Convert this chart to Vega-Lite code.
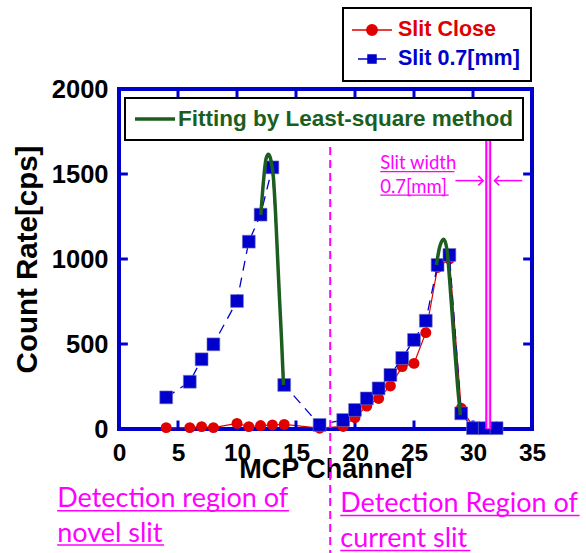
{
  "$schema": "https://vega.github.io/schema/vega-lite/v6.json",
  "width": 413,
  "height": 340,
  "autosize": {"type": "none"},
  "padding": {"left": 119, "top": 89, "right": 54, "bottom": 124},
  "background": "white",
  "config": {
    "view": {"fill": "#fdf69c", "stroke": "#0000cc", "strokeWidth": 4},
    "axis": {"grid": false, "domain": false, "ticks": false}
  },
  "datasets": {
    "slit": [
      {"series": "Slit Close", "ch": 4, "rate": 8},
      {"series": "Slit Close", "ch": 6, "rate": 8},
      {"series": "Slit Close", "ch": 7, "rate": 14},
      {"series": "Slit Close", "ch": 8, "rate": 8},
      {"series": "Slit Close", "ch": 10, "rate": 33},
      {"series": "Slit Close", "ch": 11, "rate": 14},
      {"series": "Slit Close", "ch": 12, "rate": 20},
      {"series": "Slit Close", "ch": 13, "rate": 24},
      {"series": "Slit Close", "ch": 14, "rate": 27},
      {"series": "Slit Close", "ch": 17, "rate": 5},
      {"series": "Slit Close", "ch": 19, "rate": 15},
      {"series": "Slit Close", "ch": 20, "rate": 67},
      {"series": "Slit Close", "ch": 21, "rate": 135},
      {"series": "Slit Close", "ch": 22, "rate": 180},
      {"series": "Slit Close", "ch": 23, "rate": 253},
      {"series": "Slit Close", "ch": 24, "rate": 367},
      {"series": "Slit Close", "ch": 25, "rate": 386},
      {"series": "Slit Close", "ch": 26, "rate": 567},
      {"series": "Slit Close", "ch": 27, "rate": 950},
      {"series": "Slit Close", "ch": 28, "rate": 1000},
      {"series": "Slit Close", "ch": 29, "rate": 122},
      {"series": "Slit Close", "ch": 30, "rate": 15},
      {"series": "Slit Close", "ch": 31, "rate": 10},
      {"series": "Slit Close", "ch": 32, "rate": 12},
      {"series": "Slit 0.7[mm]", "ch": 4, "rate": 186},
      {"series": "Slit 0.7[mm]", "ch": 6, "rate": 278},
      {"series": "Slit 0.7[mm]", "ch": 7, "rate": 410},
      {"series": "Slit 0.7[mm]", "ch": 8, "rate": 498},
      {"series": "Slit 0.7[mm]", "ch": 10, "rate": 753},
      {"series": "Slit 0.7[mm]", "ch": 11, "rate": 1102},
      {"series": "Slit 0.7[mm]", "ch": 12, "rate": 1261},
      {"series": "Slit 0.7[mm]", "ch": 13, "rate": 1539},
      {"series": "Slit 0.7[mm]", "ch": 14, "rate": 259},
      {"series": "Slit 0.7[mm]", "ch": 17, "rate": 24},
      {"series": "Slit 0.7[mm]", "ch": 19, "rate": 53},
      {"series": "Slit 0.7[mm]", "ch": 20, "rate": 112},
      {"series": "Slit 0.7[mm]", "ch": 21, "rate": 180},
      {"series": "Slit 0.7[mm]", "ch": 22, "rate": 239},
      {"series": "Slit 0.7[mm]", "ch": 23, "rate": 318},
      {"series": "Slit 0.7[mm]", "ch": 24, "rate": 418},
      {"series": "Slit 0.7[mm]", "ch": 25, "rate": 524},
      {"series": "Slit 0.7[mm]", "ch": 26, "rate": 637},
      {"series": "Slit 0.7[mm]", "ch": 27, "rate": 965},
      {"series": "Slit 0.7[mm]", "ch": 28, "rate": 1024},
      {"series": "Slit 0.7[mm]", "ch": 29, "rate": 92},
      {"series": "Slit 0.7[mm]", "ch": 30, "rate": 5},
      {"series": "Slit 0.7[mm]", "ch": 31, "rate": 5},
      {"series": "Slit 0.7[mm]", "ch": 32, "rate": 5}
    ],
    "fit": [
      {"name": "Fitting by Least-square method", "peak": "left", "ch": 12.02, "rate": 1259},
      {"name": "Fitting by Least-square method", "peak": "left", "ch": 12.24, "rate": 1455},
      {"name": "Fitting by Least-square method", "peak": "left", "ch": 12.47, "rate": 1592},
      {"name": "Fitting by Least-square method", "peak": "left", "ch": 12.67, "rate": 1616},
      {"name": "Fitting by Least-square method", "peak": "left", "ch": 12.87, "rate": 1582},
      {"name": "Fitting by Least-square method", "peak": "left", "ch": 13.09, "rate": 1475},
      {"name": "Fitting by Least-square method", "peak": "left", "ch": 13.26, "rate": 1278},
      {"name": "Fitting by Least-square method", "peak": "left", "ch": 13.43, "rate": 1024},
      {"name": "Fitting by Least-square method", "peak": "left", "ch": 13.6, "rate": 769},
      {"name": "Fitting by Least-square method", "peak": "left", "ch": 13.77, "rate": 534},
      {"name": "Fitting by Least-square method", "peak": "left", "ch": 13.94, "rate": 259},
      {"name": "Fitting by Least-square method", "peak": "right", "ch": 26.9, "rate": 965},
      {"name": "Fitting by Least-square method", "peak": "right", "ch": 27.18, "rate": 1072},
      {"name": "Fitting by Least-square method", "peak": "right", "ch": 27.52, "rate": 1116},
      {"name": "Fitting by Least-square method", "peak": "right", "ch": 27.8, "rate": 1053},
      {"name": "Fitting by Least-square method", "peak": "right", "ch": 28.02, "rate": 876},
      {"name": "Fitting by Least-square method", "peak": "right", "ch": 28.25, "rate": 661},
      {"name": "Fitting by Least-square method", "peak": "right", "ch": 28.48, "rate": 445},
      {"name": "Fitting by Least-square method", "peak": "right", "ch": 28.7, "rate": 249},
      {"name": "Fitting by Least-square method", "peak": "right", "ch": 28.93, "rate": 82}
    ],
    "xticks": [{"v": 5}, {"v": 10}, {"v": 15}, {"v": 20}, {"v": 25}, {"v": 30}],
    "yticks": [{"v": 500}, {"v": 1000}, {"v": 1500}],
    "one": [{}]
  },
  "layer": [
    {
      "data": {"name": "slit"},
      "transform": [{"filter": "datum.series === 'Slit Close'"}],
      "mark": {"type": "line", "color": "#e00000", "strokeWidth": 1.2},
      "encoding": {
        "x": {"field": "ch", "type": "quantitative",
          "scale": {"domain": [0, 35], "nice": false, "zero": false},
          "axis": {"orient": "bottom", "values": [0, 5, 10, 15, 20, 25, 30, 35], "format": "d",
            "labelFont": "Liberation Sans", "labelFontWeight": "bold", "labelFontSize": 24.5, "labelColor": "black", "labelPadding": 12, "labelFlush": false, "labelOverlap": false,
            "title": "MCP Channel", "titleFont": "Liberation Sans", "titleFontSize": 27, "titleFontWeight": "bold", "titleColor": "black",
            "titleX": 206.5, "titleY": 48, "titleBaseline": "alphabetic", "titleAlign": "center", "titleAngle": 0}},
        "y": {"field": "rate", "type": "quantitative",
          "scale": {"domain": [0, 2000], "nice": false},
          "axis": {"orient": "left", "values": [0, 500, 1000, 1500, 2000], "format": "d",
            "labelFont": "Liberation Sans", "labelFontWeight": "bold", "labelFontSize": 25.5, "labelColor": "black", "labelPadding": 11, "labelFlush": false, "labelOverlap": false,
            "title": "Count Rate[cps]", "titleFont": "Liberation Sans", "titleFontSize": 29.5, "titleFontWeight": "bold", "titleColor": "black",
            "titleX": -83, "titleY": 170, "titleAngle": 270, "titleBaseline": "alphabetic", "titleAlign": "center"}}
      }
    },
    {
      "data": {"name": "xticks"},
      "mark": {"type": "rule", "color": "#0000cc", "strokeWidth": 3},
      "encoding": {
        "x": {"field": "v", "type": "quantitative"},
        "y": {"datum": 0, "type": "quantitative"},
        "y2": {"datum": 50}
      }
    },
    {
      "data": {"name": "xticks"},
      "mark": {"type": "rule", "color": "#0000cc", "strokeWidth": 3},
      "encoding": {
        "x": {"field": "v", "type": "quantitative"},
        "y": {"datum": 2000, "type": "quantitative"},
        "y2": {"datum": 1950}
      }
    },
    {
      "data": {"name": "yticks"},
      "mark": {"type": "rule", "color": "#0000cc", "strokeWidth": 3},
      "encoding": {
        "y": {"field": "v", "type": "quantitative"},
        "x": {"datum": 0, "type": "quantitative"},
        "x2": {"datum": 0.75}
      }
    },
    {
      "data": {"name": "yticks"},
      "mark": {"type": "rule", "color": "#0000cc", "strokeWidth": 3},
      "encoding": {
        "y": {"field": "v", "type": "quantitative"},
        "x": {"datum": 35, "type": "quantitative"},
        "x2": {"datum": 34.25}
      }
    },
    {
      "data": {"name": "slit"},
      "transform": [{"filter": "datum.series === 'Slit Close'"}],
      "mark": {"type": "point", "shape": "circle", "filled": true, "color": "#e00000", "size": 120, "opacity": 1},
      "encoding": {
        "x": {"field": "ch", "type": "quantitative"},
        "y": {"field": "rate", "type": "quantitative"}
      }
    },
    {
      "data": {"name": "slit"},
      "transform": [{"filter": "datum.series === 'Slit 0.7[mm]'"}],
      "mark": {"type": "line", "color": "#0000cc", "strokeWidth": 1.3, "strokeDash": [10, 7]},
      "encoding": {
        "x": {"field": "ch", "type": "quantitative"},
        "y": {"field": "rate", "type": "quantitative"}
      }
    },
    {
      "data": {"name": "slit"},
      "transform": [{"filter": "datum.series === 'Slit 0.7[mm]'"}],
      "mark": {"type": "point", "shape": "square", "filled": true, "color": "#0000cc", "size": 165, "opacity": 1, "stroke": "#7777bb", "strokeWidth": 0.6},
      "encoding": {
        "x": {"field": "ch", "type": "quantitative"},
        "y": {"field": "rate", "type": "quantitative"}
      }
    },
    {
      "data": {"name": "fit"},
      "mark": {"type": "line", "strokeWidth": 3.5, "interpolate": "monotone"},
      "encoding": {
        "x": {"field": "ch", "type": "quantitative"},
        "y": {"field": "rate", "type": "quantitative"},
        "detail": {"field": "peak", "type": "nominal"},
        "color": {"field": "name", "type": "nominal",
          "scale": {"domain": ["Fitting by Least-square method"], "range": ["#1b5e20"]},
          "legend": {"orient": "none", "legendX": 6, "legendY": 9, "title": null, "padding": 9,
            "strokeColor": "black", "fillColor": "white",
            "symbolType": "M-2,0H2", "symbolSize": 400, "symbolStrokeWidth": 3.5, "symbolOffset": 9,
            "labelOffset": 11, "labelFont": "Liberation Sans", "labelFontWeight": "bold", "labelFontSize": 22.5, "labelColor": "#1b5e20", "labelLimit": 500,
            "encode": {"legend": {"update": {"strokeWidth": {"value": 2}}}}}}
      }
    },
    {
      "data": {"values": [{"series": "Slit Close"}, {"series": "Slit 0.7[mm]"}]},
      "transform": [{"filter": "false"}],
      "mark": {"type": "point", "filled": true},
      "encoding": {
        "fill": {"field": "series", "type": "nominal",
          "scale": {"domain": ["Slit Close", "Slit 0.7[mm]"], "range": ["#e00000", "#0000cc"]},
          "legend": {"orient": "none", "legendX": 224, "legendY": -81, "title": null, "padding": 11,
            "strokeColor": "black", "fillColor": "white",
            "symbolSize": 400, "symbolStrokeWidth": 1.5, "symbolOffset": 7, "symbolOpacity": 1,
            "labelOffset": 15, "rowPadding": 7, "labelFont": "Liberation Sans", "labelFontWeight": "bold", "labelFontSize": 21.5, "labelLimit": 300,
            "encode": {"legend": {"update": {"strokeWidth": {"value": 2}}},
              "labels": {"update": {"fill": {"signal": "datum.value === 'Slit Close' ? '#e00000' : '#0000cc'"}}}}}},
        "stroke": {"field": "series", "type": "nominal",
          "scale": {"domain": ["Slit Close", "Slit 0.7[mm]"], "range": ["#e00000", "#0000cc"]}},
        "shape": {"field": "series", "type": "nominal",
          "scale": {"domain": ["Slit Close", "Slit 0.7[mm]"],
            "range": ["M-2,0H2M0.52,0A0.52,0.52,0,1,1,-0.52,0A0.52,0.52,0,1,1,0.52,0Z", "M-1.4,0H1.4M-0.4,-0.4H0.4V0.4H-0.4Z"]}}
      }
    },
    {
      "data": {"name": "one"},
      "mark": {"type": "rule", "color": "#ff00ff", "strokeWidth": 2, "strokeDash": [8, 5], "clip": false},
      "encoding": {
        "x": {"datum": 17.9, "type": "quantitative"},
        "y": {"datum": 1659, "type": "quantitative"},
        "y2": {"datum": -730}
      }
    },
    {
      "data": {"name": "one"},
      "mark": {"type": "rule", "color": "#ff00ff", "strokeWidth": 6},
      "encoding": {
        "x": {"datum": 31.29, "type": "quantitative"},
        "y": {"datum": 1712, "type": "quantitative"},
        "y2": {"datum": 0}
      }
    },
    {
      "data": {"name": "one"},
      "mark": {"type": "rule", "color": "#ffc8f4", "strokeWidth": 2},
      "encoding": {
        "x": {"datum": 31.29, "type": "quantitative"},
        "y": {"datum": 1706, "type": "quantitative"},
        "y2": {"datum": 4}
      }
    },
    {
      "data": {"name": "one"},
      "mark": {"type": "rule", "color": "#ff00ff", "strokeWidth": 1.5},
      "encoding": {
        "x": {"datum": 28.51, "type": "quantitative"},
        "x2": {"datum": 30.86},
        "y": {"datum": 1461, "type": "quantitative"}
      }
    },
    {
      "data": {"name": "one"},
      "mark": {"type": "rule", "color": "#ff00ff", "strokeWidth": 1.5},
      "encoding": {
        "x": {"datum": 31.82, "type": "quantitative"},
        "x2": {"datum": 34.17},
        "y": {"datum": 1461, "type": "quantitative"}
      }
    },
    {
      "data": {"name": "one"},
      "mark": {"type": "point", "shape": "M-1,-1L0,0L-1,1", "filled": false, "color": "#ff00ff", "strokeWidth": 1.5, "size": 90, "opacity": 1},
      "encoding": {
        "x": {"datum": 30.86, "type": "quantitative"},
        "y": {"datum": 1461, "type": "quantitative"}
      }
    },
    {
      "data": {"name": "one"},
      "mark": {"type": "point", "shape": "M1,-1L0,0L1,1", "filled": false, "color": "#ff00ff", "strokeWidth": 1.5, "size": 90, "opacity": 1},
      "encoding": {
        "x": {"datum": 31.82, "type": "quantitative"},
        "y": {"datum": 1461, "type": "quantitative"}
      }
    },
    {
      "data": {"name": "one"},
      "mark": {"type": "text", "text": ["Slit width", "0.7[mm]"], "font": "Lato", "fontSize": 18.5, "color": "#ff00ff", "align": "left", "baseline": "alphabetic", "lineHeight": 23.4},
      "encoding": {
        "x": {"datum": 22.14, "type": "quantitative"},
        "y": {"datum": 1528, "type": "quantitative"}
      }
    },
    {
      "data": {"name": "one"},
      "mark": {"type": "rule", "color": "#ff00ff", "strokeWidth": 1.2},
      "encoding": {
        "x": {"datum": 22.14, "type": "quantitative"},
        "x2": {"datum": 28.42},
        "y": {"datum": 1514, "type": "quantitative"}
      }
    },
    {
      "data": {"name": "one"},
      "mark": {"type": "rule", "color": "#ff00ff", "strokeWidth": 1.2},
      "encoding": {
        "x": {"datum": 22.14, "type": "quantitative"},
        "x2": {"datum": 27.94},
        "y": {"datum": 1376, "type": "quantitative"}
      }
    },
    {
      "data": {"name": "one"},
      "mark": {"type": "text", "text": ["Detection region of", "novel slit"], "font": "Lato", "fontSize": 27, "color": "#ff00ff", "align": "left", "baseline": "alphabetic", "lineHeight": 35, "clip": false},
      "encoding": {
        "x": {"datum": -5.24, "type": "quantitative"},
        "y": {"datum": -457, "type": "quantitative"}
      }
    },
    {
      "data": {"name": "one"},
      "mark": {"type": "rule", "color": "#ff00ff", "strokeWidth": 1.5, "clip": false},
      "encoding": {
        "x": {"datum": -5.24, "type": "quantitative"},
        "x2": {"datum": 14.42},
        "y": {"datum": -481, "type": "quantitative"}
      }
    },
    {
      "data": {"name": "one"},
      "mark": {"type": "rule", "color": "#ff00ff", "strokeWidth": 1.5, "clip": false},
      "encoding": {
        "x": {"datum": -5.24, "type": "quantitative"},
        "x2": {"datum": 3.82},
        "y": {"datum": -682, "type": "quantitative"}
      }
    },
    {
      "data": {"name": "one"},
      "mark": {"type": "text", "text": ["Detection Region of", "current slit"], "font": "Lato", "fontSize": 27, "color": "#ff00ff", "align": "left", "baseline": "alphabetic", "lineHeight": 35, "clip": false},
      "encoding": {
        "x": {"datum": 18.75, "type": "quantitative"},
        "y": {"datum": -488, "type": "quantitative"}
      }
    },
    {
      "data": {"name": "one"},
      "mark": {"type": "rule", "color": "#ff00ff", "strokeWidth": 1.5, "clip": false},
      "encoding": {
        "x": {"datum": 18.75, "type": "quantitative"},
        "x2": {"datum": 39.03},
        "y": {"datum": -509, "type": "quantitative"}
      }
    },
    {
      "data": {"name": "one"},
      "mark": {"type": "rule", "color": "#ff00ff", "strokeWidth": 1.5, "clip": false},
      "encoding": {
        "x": {"datum": 18.75, "type": "quantitative"},
        "x2": {"datum": 29.78},
        "y": {"datum": -715, "type": "quantitative"}
      }
    }
  ]
}
